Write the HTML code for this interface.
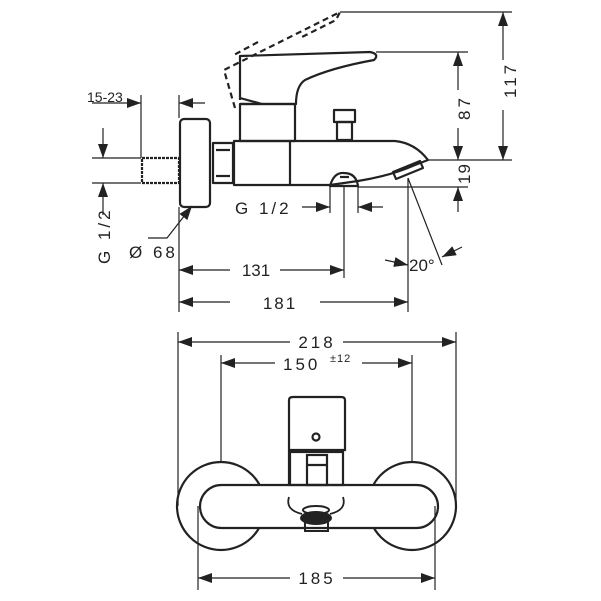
<!DOCTYPE html>
<html><head><meta charset="utf-8"><style>
html,body{margin:0;padding:0;background:#fff;}
svg{display:block}
text{font-family:"Liberation Sans",sans-serif;fill:#222;}
</style></head><body>
<svg width="601" height="601" viewBox="0 0 601 601" xmlns="http://www.w3.org/2000/svg">
<defs>
<marker id="a" viewBox="0 0 14 10" refX="14" refY="5" markerWidth="14" markerHeight="10" markerUnits="userSpaceOnUse" orient="auto-start-reverse"><path d="M0,0 L14,5 L0,10 z" fill="#222"/></marker>
</defs>
<g fill="none" stroke="#222" stroke-width="2.2" stroke-linejoin="round">
<path d="M235,108 L224,70 L340,12 L336,20 L300,38" stroke-dasharray="6,4"/>
<path d="M258,42 L232,56" stroke-dasharray="6,4"/>
<path d="M240,100 L240,56 L370,52 Q380,54 374,60 Q330,68 305,80 Q296,86 296,104 L240,104"/>
<path d="M240,98 L262,104"/>
<rect x="240" y="104" width="55" height="37"/>
<rect x="334" y="110" width="21" height="12"/>
<rect x="337" y="122" width="15" height="18"/>
<rect x="180" y="119" width="30" height="88" rx="4"/>
<rect x="142" y="158" width="37" height="25" stroke-dasharray="3,1"/>
<rect x="213" y="143" width="20" height="40"/>
<line x1="216" y1="150" x2="230" y2="150"/><line x1="216" y1="176" x2="230" y2="176"/>
<path d="M234,141 L395,141 Q415,143 428,160 L415,165 Q390,176 358,181 L330,185 L234,185 Z"/>
<line x1="290" y1="141" x2="290" y2="185"/>
<path d="M330,186 Q334,172 344,173 Q356,173 358,186 Z"/>
<line x1="340" y1="177" x2="349" y2="177"/>
<path d="M393,172 L420,161 L423,168 L396,179 Z"/>
</g>
<g stroke="#222" stroke-width="1.2" fill="none">
<line x1="340" y1="12" x2="512" y2="12"/>
<line x1="428" y1="160" x2="512" y2="160"/>
<line x1="376" y1="52" x2="468" y2="52"/>
<line x1="358" y1="187" x2="468" y2="187"/>
<line x1="503" y1="12" x2="503" y2="60" marker-start="url(#a)"/>
<line x1="503" y1="110" x2="503" y2="160" marker-end="url(#a)"/>
<line x1="458" y1="52" x2="458" y2="90" marker-start="url(#a)"/>
<line x1="458" y1="128" x2="458" y2="160" marker-end="url(#a)"/>
<line x1="458" y1="212" x2="458" y2="187" marker-end="url(#a)"/>
<line x1="92" y1="103" x2="141" y2="103" marker-end="url(#a)"/>
<line x1="205" y1="103" x2="179" y2="103" marker-end="url(#a)"/>
<line x1="141" y1="95" x2="141" y2="158"/>
<line x1="179" y1="95" x2="179" y2="118"/>
<line x1="92" y1="158" x2="141" y2="158"/>
<line x1="92" y1="183" x2="141" y2="183"/>
<line x1="103" y1="128" x2="103" y2="158" marker-end="url(#a)"/>
<line x1="103" y1="215" x2="103" y2="183" marker-end="url(#a)"/>
<polyline points="148,238 167,238 192,206" marker-end="url(#a)"/>
<line x1="302" y1="207" x2="330" y2="207" marker-end="url(#a)"/>
<line x1="383" y1="207" x2="358" y2="207" marker-end="url(#a)"/>
<line x1="344" y1="187" x2="344" y2="278"/>
<line x1="330" y1="186" x2="330" y2="213"/>
<line x1="358" y1="186" x2="358" y2="213"/>
<line x1="179" y1="207" x2="179" y2="312"/>
<line x1="408" y1="178" x2="408" y2="312"/>
<line x1="230" y1="270" x2="179" y2="270" marker-end="url(#a)"/>
<line x1="280" y1="270" x2="344" y2="270" marker-end="url(#a)"/>
<line x1="230" y1="302" x2="179" y2="302" marker-end="url(#a)"/>
<line x1="320" y1="302" x2="408" y2="302" marker-end="url(#a)"/>
<line x1="408" y1="178" x2="442" y2="265"/>
<line x1="385" y1="260" x2="408" y2="265" marker-end="url(#a)"/>
<line x1="462" y1="247" x2="442" y2="257" marker-end="url(#a)"/>
</g>
<g font-size="17">
<text x="87" y="102" font-size="14">15-23</text>
<text x="235" y="214" letter-spacing="3">G 1/2</text>
<text x="129" y="258" letter-spacing="3">Ø 68</text>
<text x="256" y="276" text-anchor="middle">131</text>
<text x="280" y="309" letter-spacing="2" text-anchor="middle">181</text>
<text x="409" y="271">20°</text>
<text transform="translate(110,264) rotate(-90)" letter-spacing="3">G 1/2</text>
<text transform="translate(516,98) rotate(-90)" letter-spacing="3">117</text>
<text transform="translate(470,120) rotate(-90)" letter-spacing="3">87</text>
<text transform="translate(470,184) rotate(-90)" letter-spacing="1">19</text>
</g>
<g fill="none" stroke="#222" stroke-width="2.2">
<circle cx="221" cy="506" r="44"/>
<circle cx="412" cy="506" r="44"/>
<rect x="200" y="485" width="238" height="43" rx="21.5" fill="#fff"/>
<path d="M289,485 L289,400 Q289,397 293,397 L341,397 Q345,397 345,400 L345,450 L289,450"/>
<rect x="290" y="452" width="53" height="33"/>
<rect x="307" y="455" width="20" height="30"/>
<line x1="307" y1="465" x2="327" y2="465"/>
<circle cx="316" cy="437" r="3.5"/>
<path d="M289,497 Q285,510 302,514 M343,497 Q347,510 330,514" stroke-width="1.8"/>
</g>
<ellipse cx="316" cy="518" rx="16" ry="7" fill="#222"/>
<ellipse cx="316" cy="510" rx="13" ry="4" fill="none" stroke="#222" stroke-width="2"/>
<rect x="305" y="522" width="23" height="9" fill="none" stroke="#222" stroke-width="2"/>
<g stroke="#222" stroke-width="1.2" fill="none">
<line x1="178" y1="332" x2="178" y2="506"/>
<line x1="456" y1="332" x2="456" y2="506"/>
<line x1="221" y1="355" x2="221" y2="462"/>
<line x1="412" y1="355" x2="412" y2="462"/>
<line x1="198" y1="506" x2="198" y2="590"/>
<line x1="435" y1="506" x2="435" y2="590"/>
<line x1="290" y1="342" x2="178" y2="342" marker-end="url(#a)"/>
<line x1="343" y1="342" x2="456" y2="342" marker-end="url(#a)"/>
<line x1="275" y1="363" x2="221" y2="363" marker-end="url(#a)"/>
<line x1="362" y1="363" x2="412" y2="363" marker-end="url(#a)"/>
<line x1="290" y1="578" x2="198" y2="578" marker-end="url(#a)"/>
<line x1="343" y1="578" x2="435" y2="578" marker-end="url(#a)"/>
</g>
<g font-size="17" letter-spacing="3">
<text x="317" y="348" text-anchor="middle">218</text>
<text x="283" y="370">150</text>
<text x="330" y="362" font-size="11" letter-spacing="1">±12</text>
<text x="317" y="584" text-anchor="middle">185</text>
</g>
</svg>
</body></html>
